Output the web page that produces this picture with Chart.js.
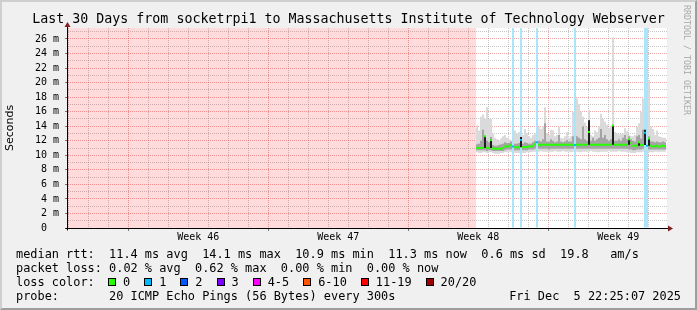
<!DOCTYPE html>
<html>
<head>
<meta charset="utf-8">
<title>SmokePing - socketrpi1 to MIT Webserver</title>
<script src="https://cdn.jsdelivr.net/npm/chart.js@4.4.1/dist/chart.umd.min.js"></script>
<style>
  html, body { margin: 0; padding: 0; background: #f0f0f0; }
  #graph {
    position: relative;
    width: 697px;
    height: 310px;
    background: #f0f0f0;
    overflow: hidden;
    font-family: "DejaVu Sans Mono", monospace;
    color: #000;
  }
  #graph canvas { position: absolute; left: 0; top: 0; }
  .frame {
    position: absolute;
    left: 0; top: 0;
    width: 697px; height: 310px;
    box-sizing: border-box;
    border: 2px solid;
    border-color: #cfcfcf #9e9e9e #9e9e9e #cfcfcf;
    pointer-events: none;
  }
  #title {
    position: absolute;
    left: 0; top: 11px;
    width: 697px;
    text-align: center;
    font-size: 13.3px;
    line-height: 16px;
    white-space: pre;
  }
  .row {
    position: absolute;
    left: 16px;
    font-size: 11.9px;
    line-height: 14px;
    white-space: pre;
  }
  #stamp { position: absolute; right: 16px; top: 289px; font-size: 11.9px; line-height: 14px; white-space: pre; }
  #lossKey { position: absolute; left: 108px; top: 275px; height: 14px; display: flex; align-items: center; font-size: 11.9px; white-space: pre; }
  #lossKey .item { display: flex; align-items: center; margin-right: 14px; }
  #lossKey .box { width: 6px; height: 6px; border: 1px solid #000; margin-right: 7px; }
  #brand {
    position: absolute;
    left: 682px; top: 5px;
    font-size: 8.3px;
    line-height: 10px;
    color: #a8a8a8;
    white-space: pre;
    transform-origin: 0 0;
    transform: translate(10px, 0) rotate(90deg);
  }
</style>
</head>
<body>
<div id="graph">
  <canvas id="smoke" width="697" height="310"></canvas>
  <div id="title">Last 30 Days from socketrpi1 to Massachusetts Institute of Technology Webserver</div>
  <div id="brand">RRDTOOL / TOBI OETIKER</div>
  <div class="row" style="top:247px">median rtt:  11.4 ms avg  14.1 ms max  10.9 ms min  11.3 ms now  0.6 ms sd  19.8   am/s</div>
  <div class="row" style="top:261px">packet loss: 0.02 % avg  0.62 % max  0.00 % min  0.00 % now</div>
  <div class="row" style="top:275px">loss color:</div>
  <div id="lossKey"></div>
  <div class="row" style="top:289px">probe:       20 ICMP Echo Pings (56 Bytes) every 300s</div>
  <div id="stamp">Fri Dec  5 22:25:07 2025</div>
  <div class="frame"></div>
</div>
<script>
  // time frame of the graph
  const graphEnd = "2025-12-05T22:25:07Z";
  const graphDays = 30;
  const weekStarts = ["2025-11-09", "2025-11-16", "2025-11-23", "2025-11-30"];
  const weekLabels = ["Week 46", "Week 47", "Week 48", "Week 49"];

  // consolidated samples: first bin centre and bin length
  const firstSample = "2025-11-26T10:25:07Z";
  const sampleHours = 2.4;

  // y axis (milliseconds)
  const yMax = 27.5;
  const yTickValues = [0, 1, 2, 3, 4, 5, 6, 7, 8, 9, 10, 11, 12, 13, 14, 15, 16, 17, 18, 19, 20, 21, 22, 23, 24, 25, 26, 27];

  // median rtt per bin (ms)
  const median = [
    11.0, 11.0, 11.0, 11.05, 12.6, 11.0, 11.0, 12.1, 10.95, 10.9,
    10.9, 10.9, 10.9, 10.95, 11.2, 11.2, 11.25, 11.4, 11.2, 11.1,
    11.1, 11.1, 12.1, 11.1, 11.15, 11.15, 11.2, 11.2, 11.25, 11.5,
    11.8, 11.45, 11.45, 11.45, 11.45, 11.45, 11.45, 11.45, 11.45, 11.45,
    11.45, 11.45, 11.45, 11.45, 11.45, 11.45, 11.45, 11.45, 11.45, 11.4,
    11.45, 11.45, 11.45, 11.45, 11.45, 11.45, 13.2, 11.45, 11.45, 11.45,
    11.45, 11.45, 11.45, 11.45, 11.45, 11.45, 11.45, 11.45, 14.1, 11.45,
    11.45, 11.45, 11.45, 11.45, 11.45, 11.45, 12.2, 11.7, 11.3, 11.3,
    11.3, 11.8, 11.4, 11.4, 13.1, 11.3, 12.3, 11.3, 11.2, 11.25,
    11.3, 11.2, 11.25, 11.3, 11.25
  ];

  // smoke: fastest ping per bin
  const smokeMin = [
    10.4, 10.3, 10.3, 10.4, 10.4, 10.3, 10.4, 10.4, 10.3, 10.2,
    10.2, 10.2, 10.3, 10.3, 10.4, 10.4, 10.5, 10.4, 10.4, 10.3,
    10.3, 10.3, 10.4, 10.3, 10.3, 10.4, 10.4, 10.4, 10.5, 10.5,
    10.5, 10.5, 10.6, 10.5, 10.5, 10.5, 10.4, 10.5, 10.5, 10.6,
    10.5, 10.5, 10.5, 10.6, 10.5, 10.5, 10.5, 10.4, 10.5, 10.5,
    10.5, 10.4, 10.4, 10.5, 10.5, 10.5, 10.5, 10.6, 10.5, 10.5,
    10.4, 10.4, 10.5, 10.5, 10.5, 10.5, 10.6, 10.5, 10.5, 10.5,
    10.5, 10.6, 10.5, 10.5, 10.5, 10.4, 10.4, 10.3, 10.3, 10.3,
    10.4, 10.4, 10.4, 10.5, 10.5, 10.4, 10.4, 10.4, 10.4, 10.5,
    10.5, 10.4, 10.5, 10.5, 10.5
  ];

  // smoke: dense core, lower edge
  const smokeLow = [
    10.7, 10.7, 10.7, 10.7, 10.7, 10.6, 10.7, 10.7, 10.6, 10.6,
    10.6, 10.6, 10.6, 10.6, 10.7, 10.8, 10.8, 10.8, 10.7, 10.7,
    10.7, 10.7, 10.7, 10.7, 10.7, 10.7, 10.8, 10.8, 10.8, 10.9,
    10.9, 10.9, 10.9, 10.9, 10.9, 10.9, 10.8, 10.9, 10.9, 10.9,
    10.9, 10.9, 10.9, 10.9, 10.9, 10.9, 10.9, 10.9, 10.9, 10.9,
    10.9, 10.9, 10.9, 10.9, 10.9, 10.9, 10.9, 10.9, 10.9, 10.9,
    10.9, 10.9, 10.9, 10.9, 10.9, 10.9, 10.9, 10.9, 10.9, 10.9,
    10.9, 10.9, 10.9, 10.9, 10.9, 10.9, 10.8, 10.8, 10.7, 10.7,
    10.8, 10.8, 10.8, 10.9, 10.9, 10.8, 10.8, 10.8, 10.8, 10.8,
    10.8, 10.8, 10.8, 10.8, 10.8
  ];

  // smoke: dense core, upper edge
  const smokeHigh = [
    11.5, 11.6, 12.0, 13.5, 12.6, 12.0, 11.8, 12.5, 11.4, 11.3,
    11.3, 11.4, 11.5, 11.6, 11.8, 11.7, 11.7, 11.9, 11.8, 11.6,
    11.6, 11.7, 13.0, 11.6, 11.8, 11.7, 11.6, 11.6, 11.8, 12.0,
    12.4, 12.0, 11.9, 12.2, 14.4, 11.9, 11.9, 12.2, 12.0, 11.8,
    11.9, 12.8, 11.9, 11.8, 11.9, 12.1, 11.9, 11.9, 12.6, 13.0,
    12.6, 12.4, 12.2, 14.0, 12.2, 12.0, 14.8, 12.0, 12.4, 12.0,
    12.2, 12.4, 13.6, 12.4, 12.8, 12.2, 12.0, 12.2, 14.2, 12.0,
    12.0, 12.2, 12.0, 12.4, 12.8, 12.2, 12.6, 12.2, 12.0, 11.9,
    12.6, 12.8, 12.3, 13.5, 15.5, 12.0, 12.6, 11.9, 11.9, 11.8,
    11.9, 11.8, 11.8, 11.9, 11.8
  ];

  // smoke: slowest ping per bin
  const smokeMax = [
    14.1, 13.4, 15.3, 15.6, 15.0, 16.6, 15.0, 15.0, 13.0, 12.4,
    12.2, 12.0, 12.3, 12.6, 12.8, 12.4, 12.2, 12.0, 14.4, 13.4,
    13.0, 13.2, 15.2, 12.8, 13.6, 13.0, 12.6, 12.4, 12.8, 13.0,
    15.4, 13.9, 13.6, 14.0, 16.6, 13.0, 12.8, 13.5, 13.4, 12.6,
    12.8, 13.9, 12.4, 12.3, 12.6, 13.2, 12.4, 12.6, 16.0, 18.4,
    17.8, 17.0, 16.0, 15.3, 14.5, 13.9, 16.2, 12.8, 12.6, 13.4,
    13.2, 14.0, 15.7, 15.0, 14.6, 14.2, 13.8, 14.0, 26.2, 13.2,
    13.0, 12.9, 13.0, 13.0, 13.7, 13.3, 12.8, 12.6, 12.6, 12.8,
    13.9, 14.4, 16.0, 17.8, 17.8, 14.0, 20.3, 14.0, 13.6, 12.8,
    13.4, 12.6, 12.5, 12.4, 12.4
  ];

  // bins where the near-median pings jumped (black spikes)
  const spikeBins = [4, 7, 22, 56, 68, 76, 81, 84, 86];
  const spikeLow = [11.0, 11.0, 11.1, 11.45, 11.45, 11.45, 11.3, 11.4, 11.3];
  const spikeHigh = [12.6, 12.1, 12.5, 14.8, 14.1, 12.2, 11.8, 13.5, 12.3];

  // bins with 1 of 20 pings lost
  const lossBins = [18, 22, 30, 49, 84, 85];

  const lossLabels = ["0", "1", "2", "3", "4-5", "6-10", "11-19", "20/20"];
  const lossColors = ["#26ff00", "#00b8ff", "#0059ff", "#7e00ff", "#ff00ff", "#ff5500", "#ff0000", "#a10000"];

  const DAY = 86400000;
  const graphStart = Date.parse(graphEnd) - graphDays * DAY;
  const dayOf = (ms) => (ms - graphStart) / DAY;

  const sampleStart = dayOf(Date.parse(firstSample));
  const sampleStep = sampleHours / 24;
  const binX = median.map((_, i) => sampleStart + i * sampleStep);
  const unknownUntil = binX[0] - sampleStep / 2;

  // half-day ticks: midnights get grid lines, week starts get red ones, mid-week noons carry labels
  function buildTimeTicks() {
    const weekMs = weekStarts.map((d) => Date.parse(d + "T00:00:00Z"));
    const ticks = [];
    const half = DAY / 2;
    for (let ms = Math.ceil(graphStart / half) * half; ms < graphStart + graphDays * DAY; ms += half) {
      const isNoon = ms % DAY !== 0;
      const week = weekMs.findIndex((w) => (isNoon ? w + 3.5 * DAY : w) === ms);
      let kind = isNoon ? "none" : "minor";
      if (!isNoon && week >= 0) kind = "major";
      ticks.push({ value: dayOf(ms), kind, label: isNoon && week >= 0 ? weekLabels[week] : "" });
    }
    return ticks;
  }
  const timeTicks = buildTimeTicks();

  const gridMinor = "rgba(143, 143, 143, 0.5)";
  const gridMajor = "rgba(222, 80, 80, 0.5)";

  function renderLossKey() {
    const holder = document.getElementById("lossKey");
    lossLabels.forEach((label, i) => {
      const item = document.createElement("span");
      item.className = "item";
      const box = document.createElement("span");
      box.className = "box";
      box.style.background = lossColors[i];
      const text = document.createElement("span");
      text.textContent = label;
      item.appendChild(box);
      item.appendChild(text);
      holder.appendChild(item);
    });
  }

  const plotBackground = {
    id: "plotBackground",
    beforeDraw(chart) {
      const { ctx, chartArea: a } = chart;
      ctx.save();
      ctx.fillStyle = "#ffffff";
      ctx.fillRect(a.left, a.top, a.right - a.left, a.bottom - a.top);
      ctx.restore();
    }
  };

  const axisArrows = {
    id: "axisArrows",
    afterDatasetsDraw(chart) {
      const { ctx, chartArea: a } = chart;
      const x0 = Math.round(a.left) + 0.5;
      const y0 = Math.round(a.bottom) + 0.5;
      ctx.save();
      ctx.strokeStyle = "#000000";
      ctx.lineWidth = 1;
      ctx.beginPath();
      ctx.moveTo(x0, y0 + 2);
      ctx.lineTo(x0, a.top - 2);
      ctx.moveTo(x0 - 2, y0);
      ctx.lineTo(a.right + 3, y0);
      ctx.stroke();
      ctx.fillStyle = "#7f1f1f";
      ctx.beginPath();
      ctx.moveTo(x0 - 3, a.top - 1);
      ctx.lineTo(x0 + 3, a.top - 1);
      ctx.lineTo(x0, a.top - 6);
      ctx.closePath();
      ctx.fill();
      ctx.beginPath();
      ctx.moveTo(a.right + 1, y0 - 3);
      ctx.lineTo(a.right + 1, y0 + 3);
      ctx.lineTo(a.right + 6, y0);
      ctx.closePath();
      ctx.fill();
      ctx.restore();
    }
  };

  function initGraph() {
    const canvas = document.getElementById("smoke");
    if (!canvas || !window.Chart) {
      return;
    }

    Chart.defaults.font.family = "'DejaVu Sans Mono', monospace";
    Chart.defaults.color = "#000000";

    const bars = (lo, hi) => binX.map((x, i) => ({ x, y: [lo[i], hi[i]] }));

    new Chart(canvas.getContext("2d"), {
      type: "bar",
      data: {
        datasets: [
          {
            type: "line",
            order: 0,
            data: binX.map((x, i) => ({ x, y: median[i] })),
            showLine: false,
            pointStyle: "line",
            pointRadius: 1,
            pointBorderWidth: 2,
            pointBorderColor: (ctx) => (lossBins.includes(ctx.dataIndex) ? lossColors[1] : lossColors[0])
          },
          {
            order: 1,
            data: spikeBins.map((b, k) => ({ x: binX[b], y: [spikeLow[k], spikeHigh[k]] })),
            backgroundColor: "#1e1e1e"
          },
          {
            order: 2,
            data: lossBins.map((b) => ({ x: binX[b], y: [0, yMax] })),
            backgroundColor: "#ace5fa"
          },
          {
            order: 3,
            data: bars(smokeLow, smokeHigh),
            backgroundColor: "#a4a4a4"
          },
          {
            order: 4,
            data: bars(smokeMin, smokeMax),
            backgroundColor: "#dadada"
          },
          {
            type: "line",
            order: 5,
            data: [{ x: 0, y: yMax }, { x: unknownUntil, y: yMax }],
            fill: "origin",
            backgroundColor: "rgba(255, 0, 0, 0.14)",
            borderColor: "rgba(0, 0, 0, 0)",
            borderWidth: 0,
            pointRadius: 0
          }
        ]
      },
      options: {
        responsive: false,
        animation: false,
        events: [],
        layout: { padding: { left: 0, top: 28, right: 30, bottom: 0 } },
        datasets: {
          bar: {
            grouped: false,
            categoryPercentage: 1,
            barPercentage: 1,
            borderWidth: 0,
            inflateAmount: 0
          }
        },
        plugins: {
          legend: { display: false },
          tooltip: { enabled: false },
          title: { display: false }
        },
        scales: {
          x: {
            type: "linear",
            min: 0,
            max: graphDays,
            offset: false,
            afterBuildTicks(scale) {
              scale.ticks = timeTicks.map((t) => ({ value: t.value }));
            },
            afterFit(scale) {
              scale.height = 82;
            },
            ticks: {
              autoSkip: false,
              maxRotation: 0,
              padding: 0,
              font: { size: 10 },
              callback: (value, index) => (timeTicks[index] ? timeTicks[index].label : "")
            },
            grid: {
              offset: false,
              tickLength: 3,
              color: (ctx) => {
                const t = ctx.tick ? timeTicks[ctx.index] : null;
                if (!t || t.kind === "none") return "rgba(0, 0, 0, 0)";
                return t.kind === "major" ? gridMajor : gridMinor;
              },
              tickColor: (ctx) => {
                const t = ctx.tick ? timeTicks[ctx.index] : null;
                return t && t.kind === "major" ? "#777777" : "rgba(0, 0, 0, 0)";
              }
            },
            border: { display: true, color: "#000000", width: 1, dash: [1, 1] }
          },
          y: {
            type: "linear",
            min: 0,
            max: yMax,
            afterBuildTicks(scale) {
              scale.ticks = yTickValues.map((v) => ({ value: v }));
            },
            afterFit(scale) {
              scale.width = 67;
            },
            title: {
              display: true,
              text: "Seconds",
              font: { family: "'DejaVu Sans', sans-serif", size: 11 },
              padding: { top: 4, bottom: 0 }
            },
            ticks: {
              autoSkip: false,
              padding: 6,
              font: { size: 10 },
              callback: (value) => {
                if (value === 0) return "0  ";
                return value % 2 === 0 ? `${value} m` : "";
              }
            },
            grid: {
              tickLength: 2,
              color: (ctx) => {
                if (!ctx.tick || ctx.tick.value === 0) return "rgba(0, 0, 0, 0)";
                return ctx.tick.value % 2 === 0 ? gridMajor : gridMinor;
              },
              tickColor: (ctx) => (ctx.tick && ctx.tick.value % 2 === 0 ? "#777777" : "rgba(0, 0, 0, 0)")
            },
            border: { display: true, color: "#000000", width: 1, dash: [1, 1] }
          }
        }
      },
      plugins: [plotBackground, axisArrows]
    });
  }

  document.addEventListener("DOMContentLoaded", () => {
    renderLossKey();
    initGraph();
  });
</script>
</body>
</html>
